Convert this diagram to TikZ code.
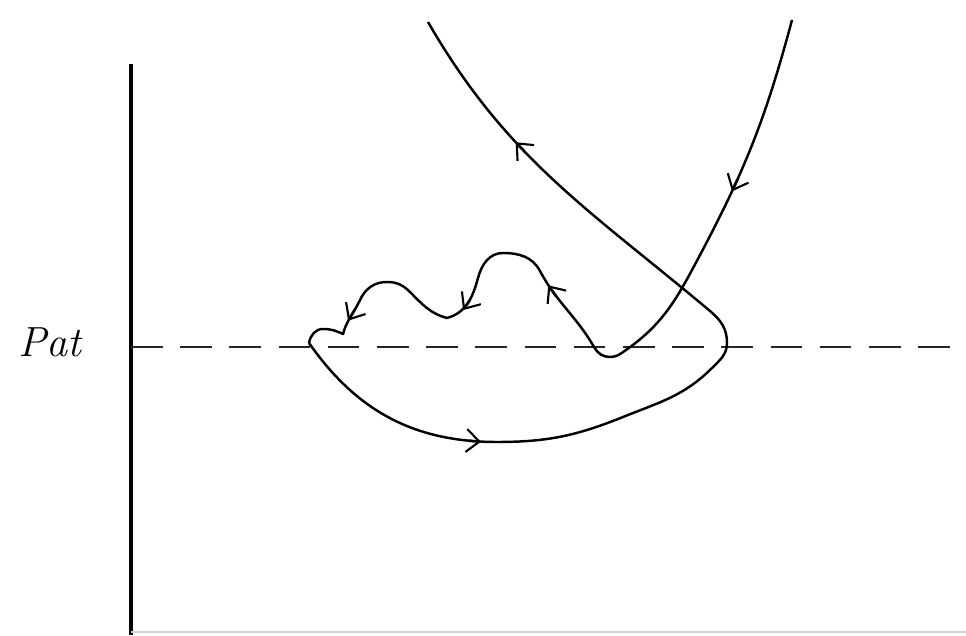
\documentclass[tikz,border=0pt]{standalone}
\usepackage{tikz}
\usetikzlibrary{arrows.meta,positioning}

\begin{document}
\begin{tikzpicture}[
  x=0.02cm, y=0.02cm,
  axis/.style={line width=2pt, color=black},
  level/.style={line width=1.1pt, dash pattern=on 18pt off 10pt, color=black!85},
  floor/.style={line width=0.8pt, color=black!18},
  curve/.style={line width=1.4pt, color=black, line join=round},
  tick/.style={sloped, allow upside down, inner sep=0pt, minimum width=8pt, minimum height=0pt, draw=none},
  barb/.style={-{Straight Barb[length=7.5pt, width=13pt, line width=1.2pt]}, line width=1.4pt, shorten <=2pt},
  lbl/.style={font=\fontsize{24}{28}\selectfont\itshape, inner sep=0pt},
]
\useasboundingbox (0,0) rectangle (966,635);

% ─── Axes and level line ───
\coordinate (ytop) at (131,571);
\coordinate (ybot) at (131,0);
\coordinate (lvl0) at (131,288);
\coordinate (lvl1) at (966,288);
\coordinate (flr0) at (131,3);
\coordinate (flr1) at (966,3);
\draw[axis] (ytop) -- (ybot);
\draw[floor] (flr0) -- (flr1);
\draw[level] (lvl0) -- (lvl1);
\node[lbl] (pat) at (50,293) {Pat};

% ─── Descending branch, cusp, wiggles, down to the left point ───
\draw[curve] (792,615)
  to[out=-105, in=62] node[tick, pos=0.7] (m1) {} (700,380)
  to[out=-118, in=35] (626,285)
  to[out=-145, in=0] (610,278)
  to[out=180, in=-60] (594,288)
  to[out=120, in=-62] node[tick, pos=0.75] (m2) {} (540,364)
  to[out=118, in=0] (503,382)
  to[out=180, in=75] (478,357)
  to[out=-105, in=15] node[tick, pos=0.5] (m3) {} (447,317)
  to[out=165, in=-45] (410,343)
  to[out=135, in=0] (387,353)
  to[out=180, in=65] (360,335)
  to[out=-115, in=75] node[tick, pos=0.4] (m4) {} (343,301)
  to[out=155, in=0] (323,306)
  to[out=180, in=80] (309,292);

% ─── Lower arc and rising branch ───
\draw[curve] (309,292)
  to[out=-55, in=180] node[tick, pos=0.9] (m5) {} (497,193)
  to[out=0, in=-158] (623,218)
  to[out=22, in=-135] (712,267)
  to[out=45, in=-90] (727,292)
  to[out=90, in=-40] (710,324)
  to[out=140, in=-60] node[tick, pos=0.62] (m6) {} (428,613);

% ─── Direction marks ───
\foreach \m in {m1,m2,m3,m4,m5,m6}
  \draw[barb] (\m.west) -- (\m.east);

\end{tikzpicture}
\end{document}
